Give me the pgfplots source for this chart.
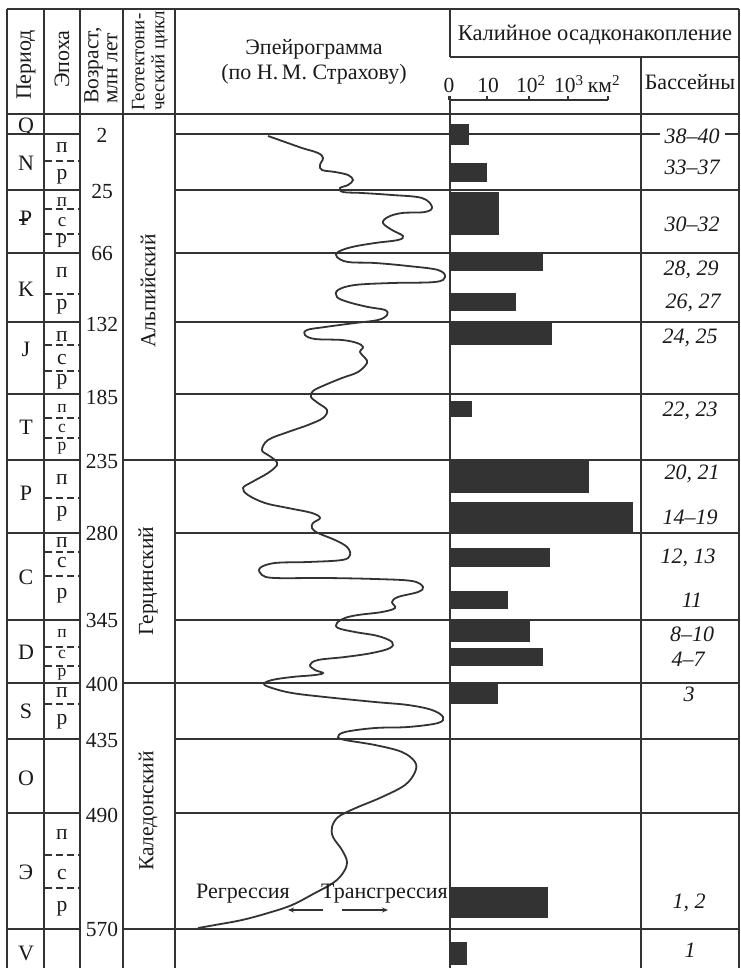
\documentclass[border=0pt]{standalone}
\usepackage{pgfplots}
\pgfplotsset{compat=1.18}
\usepackage{fontspec}
\setmainfont{Liberation Serif}
\usetikzlibrary{arrows.meta}
\definecolor{lc}{HTML}{333333}
\definecolor{bc}{HTML}{333333}
\definecolor{tc}{HTML}{1A1A1A}
\newcommand\fs[1]{\fontsize{#1}{#1}\selectfont}
\newcommand\Pg{\rlap{\kern-0.06em\rule[0.2em]{0.42em}{0.07em}}P}
\begin{document}
\begin{tikzpicture}
\useasboundingbox (0,0) rectangle (740pt,968pt);
\begin{axis}[at={(0,0)}, anchor=south west, scale only axis, width=740pt, height=968pt,
  xmin=0, xmax=740, ymin=0, ymax=968, y dir=reverse, hide axis, clip=false]
\tikzset{grid/.style={line width=2.2pt, color=lc}, every node/.style={text=tc}}
% ---------- grid ----------
\draw[grid] (7,9) -- (739,9);
\draw[grid] (7,114) -- (739,114);
\draw[grid] (450,57) -- (739,57);
\pgfplotsinvokeforeach{7,44,80,123,175,739}{\draw[grid] (#1,9) -- (#1,968);}
\draw[grid] (450,9) -- (450,57);
\draw[grid] (450,96) -- (450,968);
\draw[grid] (641,57) -- (641,968);
\pgfplotsinvokeforeach{134,190,253,322,394,460,533,620,683,739,813,929}{
  \draw[grid] (7,#1) -- (80,#1);
  \draw[grid] (175,#1) -- (739,#1);}
\pgfplotsinvokeforeach{460,683,929}{\draw[grid] (123,#1) -- (175,#1);}
\pgfplotsinvokeforeach{161,209,234,294,345,371,418,438,498,552,576,647,666,704,855,888}{
  \draw[grid, dash pattern=on 7pt off 4pt] (45,#1) -- (80,#1);}
% ---------- header ----------
\node[rotate=90, font=\fs{22}] at (26,65) {Период};
\node[rotate=90, font=\fs{22}] at (62,59) {Эпоха};
\node[rotate=90, anchor=west, align=left, inner sep=0pt, font=\fontsize{21.5}{19}\selectfont] at (101,104) {Возраст,\\млн лет};
\node[rotate=90, anchor=west, align=left, inner sep=0pt, font=\fontsize{19}{20}\selectfont] at (150,111) {Геотектони-\\ческий цикл};
\node[anchor=base, font=\fs{22}] at (314,55) {Эпейрограмма};
\node[anchor=base, font=\fs{22}] at (314,80) {(по Н.\,М. Страхову)};
\node[anchor=base, font=\fs{22.5}] at (595,41) {Калийное осадконакопление};
\node[anchor=base, font=\fs{22}] at (690,90) {Бассейны};
% scale
\draw[line width=2pt, color=lc] (449,100) -- (608,100);
\pgfplotsinvokeforeach{449,487,529,568,608}{\draw[line width=2pt, color=lc] (#1,100) -- (#1,96);}
\node[anchor=base, font=\fs{21.5}] at (449,93) {0};
\node[anchor=base, font=\fs{21.5}] at (488,93) {10};
\node[anchor=base, font=\fs{21.5}] at (531,93) {10\textsuperscript{2}};
\node[anchor=base, font=\fs{21.5}] at (569,93) {10\textsuperscript{3}};
\node[anchor=base, font=\fs{21.5}] at (604,93) {км\textsuperscript{2}};
% ---------- periods ----------
\begin{scope}
\clip (8,115) rectangle (43,133);
\node[anchor=base, font=\fs{22}] at (26,133) {Q};
\end{scope}
\node[font=\fs{22}] at (26,163) {N};
\node[font=\fs{22}] at (26,218) {\Pg};
\node[font=\fs{22}] at (26,289) {K};
\node[font=\fs{22}] at (26,349) {J};
\node[font=\fs{22}] at (26,427) {T};
\node[font=\fs{22}] at (26,493) {P};
\node[font=\fs{22}] at (26,577) {C};
\node[font=\fs{22}] at (26,652) {D};
\node[font=\fs{22}] at (26,711) {S};
\node[font=\fs{22}] at (26,778) {O};
\node[font=\fs{22}] at (26,872) {Э};
\node[font=\fs{22}] at (26,953) {V};
% ---------- epochs ----------
\tikzset{ep/.style={font=\fs{21.5}, inner sep=0pt}, eps/.style={font=\fs{19}, inner sep=0pt}, ept/.style={font=\fs{17.5}, inner sep=0pt}}
\node[ep] at (62,148) {п}; \node[ep] at (62,177) {р};
\node[eps] at (62,202) {п}; \node[eps] at (62,222) {с}; \node[eps] at (62,241) {р};
\node[ep] at (62,273) {п}; \node[ep] at (62,307) {р};
\node[ep] at (62,337) {п}; \node[ep] at (62,360) {с}; \node[ep] at (62,382) {р};
\node[ept] at (62,408) {п}; \node[ept] at (62,428) {с}; \node[ept] at (62,448) {р};
\node[ep] at (62,480) {п}; \node[ep] at (62,514) {р};
\node[ep] at (62,543) {п}; \node[ep] at (62,563) {с}; \node[ep] at (62,596) {р};
\node[ept] at (62,633) {п}; \node[ept] at (62,654) {с}; \node[ept] at (62,674) {р};
\node[ep] at (62,693) {п}; \node[ep] at (62,722) {р};
\node[ep] at (62,835) {п}; \node[ep] at (62,875) {с}; \node[ep] at (62,909) {р};
% ---------- ages ----------
\tikzset{age/.style={font=\fs{21.5}, inner sep=0pt}}
\node[age] at (102,135) {2};
\node[age] at (102,191) {25};
\node[age] at (102,253) {66};
\node[age] at (102,324) {132};
\node[age] at (102,397) {185};
\node[age] at (102,461) {235};
\node[age] at (102,533) {280};
\node[age] at (102,620) {345};
\node[age] at (102,684) {400};
\node[age] at (102,740) {435};
\node[age] at (102,815) {490};
\node[age] at (102,929) {570};
% ---------- cycles ----------
\node[rotate=90, font=\fs{21.5}] at (148,291) {Альпийский};
\node[rotate=90, font=\fs{21.5}] at (148,581) {Герцинский};
\node[rotate=90, font=\fs{21.5}] at (148,811) {Каледонский};
% ---------- basins ----------
\tikzset{bs/.style={font=\fs{22}\itshape, inner sep=1pt}}
\node[bs, fill=white, inner xsep=5pt] at (692,136) {38--40};
\node[bs] at (692,167) {33--37};
\node[bs] at (692,224) {30--32};
\node[bs] at (691,270) {28, 29};
\node[bs] at (693,303) {26, 27};
\node[bs] at (690,338) {24, 25};
\node[bs] at (690,411) {22, 23};
\node[bs] at (692,474) {20, 21};
\node[bs] at (690,517) {14--19};
\node[bs] at (688,558) {12, 13};
\node[bs] at (692,600) {11};
\node[bs] at (692,634) {8--10};
\node[bs] at (688,659) {4--7};
\node[bs] at (689,694) {3};
\node[bs] at (689,903) {1, 2};
\node[bs] at (690,950) {1};
% ---------- epeirogram ----------
\addplot[smooth, tension=0.6, line width=1.8pt, color=lc] coordinates {
(268,136) (285,142) (302,148) (318,153) (323,158) (320,165) (322,170) (335,172)
(348,175) (353,180) (348,185) (340,188) (343,192) (362,193) (392,195) (422,198)
(432,207) (425,212) (402,213) (388,217) (383,223) (392,230) (403,236) (398,240)
(375,243) (352,247) (338,252) (337,257) (348,262) (375,263) (408,266) (438,270)
(445,277) (435,282) (392,283) (355,285) (338,290) (337,297) (348,302) (368,307)
(385,310) (387,315) (378,320) (355,323) (325,327) (307,330) (305,335) (315,339)
(342,340) (357,343) (363,347) (360,352) (365,358) (367,363) (358,372) (342,378)
(325,385) (313,391) (311,397) (318,403) (327,410) (323,418) (308,425) (288,432)
(268,440) (262,450) (268,455) (275,460) (277,465) (268,473) (252,482) (243,488)
(248,495) (265,503) (288,508) (312,513) (320,518) (313,523) (312,528) (318,533)
(335,540) (347,547) (350,555) (342,560) (308,562) (275,563) (260,568) (262,575)
(275,578) (325,578) (375,579) (412,581) (423,587) (418,592) (398,597) (392,602)
(395,608) (382,612) (358,615) (345,618) (337,623) (338,628) (355,632) (378,636)
(392,642) (390,648) (372,653) (345,657) (318,660) (310,665) (315,670) (323,673)
(315,675) (292,677) (272,680) (264,684) (272,688) (292,693) (325,697) (375,702)
(408,705) (432,710) (443,717) (438,723) (408,727) (375,728) (345,732) (338,737)
(345,740) (375,745) (402,752) (415,762) (415,772) (405,785) (382,797) (358,807)
(345,813) (337,818) (332,827) (333,837) (342,850) (347,862) (343,873) (333,883)
(315,893) (292,905) (268,913) (242,920) (215,925) (198,928)};
\node[anchor=base west, font=\fs{22}, inner sep=0pt] at (196,898) {Регрессия};
\node[anchor=base west, font=\fs{22}, inner sep=0pt] at (321,898) {Трансгрессия};
\draw[line width=1.3pt, color=lc, -{Stealth[length=6pt,width=5pt]}] (323,910) -- (288,910);
\draw[line width=1.3pt, color=lc, -{Stealth[length=6pt,width=5pt]}] (342,910) -- (388,910);
\end{axis}
% ---------- bars: x = log10(area, km^2), 0 at the left edge of the column ----------
\begin{axis}[at={(0,0)}, anchor=south west, scale only axis, width=740pt, height=968pt,
  xmin=-11.31, xmax=7.33, ymin=0, ymax=968, y dir=reverse, hide axis, clip=false]
\tikzset{kb/.style={xbar, bar shift=0pt, fill=bc, draw=none}}
\addplot[kb, bar width=21pt] coordinates {(0.50,134.5)};
\addplot[kb, bar width=19pt] coordinates {(0.96,172.5)};
\addplot[kb, bar width=43pt] coordinates {(1.26,213.5)};
\addplot[kb, bar width=18pt] coordinates {(2.37,262)};
\addplot[kb, bar width=18pt] coordinates {(1.69,302)};
\addplot[kb, bar width=22pt] coordinates {(2.59,334)};
\addplot[kb, bar width=16pt] coordinates {(0.58,409)};
\addplot[kb, bar width=33pt] coordinates {(3.53,476.5)};
\addplot[kb, bar width=30pt] coordinates {(4.63,517)};
\addplot[kb, bar width=19pt] coordinates {(2.54,557.5)};
\addplot[kb, bar width=18pt] coordinates {(1.49,600)};
\addplot[kb, bar width=22pt] coordinates {(2.04,631)};
\addplot[kb, bar width=18pt] coordinates {(2.37,657)};
\addplot[kb, bar width=21pt] coordinates {(1.23,693.5)};
\addplot[kb, bar width=31pt] coordinates {(2.49,902.5)};
\addplot[kb, bar width=23pt] coordinates {(0.45,953.5)};
\end{axis}
\end{tikzpicture}
\end{document}
